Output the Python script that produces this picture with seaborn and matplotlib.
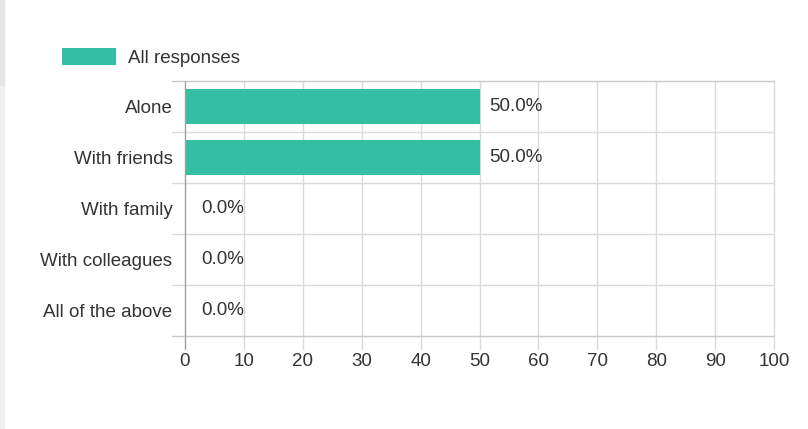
import seaborn as sns
import matplotlib.pyplot as plt
import pandas as pd
import numpy as np
from matplotlib.patches import Patch, Rectangle

categories = ["Alone", "With friends", "With family", "With colleagues", "All of the above"]
percent = [50.0, 50.0, 0.0, 0.0, 0.0]
series_name = "All responses"
xticks = [0, 10, 20, 30, 40, 50, 60, 70, 80, 90, 100]

df = pd.DataFrame({"response": categories, "percent": percent})

sns.set_style("white")
plt.rcParams['font.family'] = ['Liberation Sans', 'DejaVu Sans']

teal = "#34bea3"
grid_c = "#dadada"
text_c = "#333333"
fs = 13.5

fig = plt.figure(figsize=(8.08, 4.29), dpi=100)
fig.patch.set_facecolor("white")
# screenshot strip on the left
fig.patches.append(Rectangle((0, 1 - 86 / 429), 4 / 808, 86 / 429, transform=fig.transFigure,
                             color="#e6e6e6", zorder=0))
fig.patches.append(Rectangle((0, 0), 4 / 808, 1 - 86 / 429, transform=fig.transFigure,
                             color="#f0f0f4", zorder=0))

ax = fig.add_axes([185 / 808, 1 - 336 / 429, 589 / 808, 255 / 429])

sns.barplot(data=df, x="percent", y="response", orient="h", color=teal,
            saturation=1, width=0.7, linewidth=0, ax=ax, zorder=3)

ax.set_xlim(0, 100)
ax.set_ylim(len(categories) - 0.5, -0.5)
ax.set_xticks(xticks)
ax.set_xticklabels([str(t) for t in xticks])
ax.set_yticks(range(len(categories)))
ax.set_yticklabels(categories)
ax.set_xlabel("")
ax.set_ylabel("")

ax.grid(False)
# grid lines run a little past the plot area, like ticks
for t in xticks:
    ax.axvline(t, ymin=-13 / 255, ymax=1, color="#a0a0a0" if t == 0 else grid_c, lw=1,
               zorder=4 if t == 0 else 1, clip_on=False)
for yb in np.arange(-0.5, len(categories), 1):
    ax.axhline(yb, xmin=-13 / 589, xmax=1,
               color="#c8c8c8" if yb in (-0.5, len(categories) - 0.5) else grid_c,
               lw=1, zorder=1, clip_on=False)

for s in ax.spines.values():
    s.set_visible(False)

ax.tick_params(axis="x", length=9, labelsize=fs, labelcolor=text_c, pad=3)
ax.tick_params(axis="y", length=0, labelsize=fs, labelcolor=text_c, pad=9)

for i, v in enumerate(percent):
    pad = 7 if v > 0 else 12
    ax.annotate(f"{v:.1f}%", xy=(v, i), xytext=(pad, 0), textcoords="offset points",
                va="center", ha="left", fontsize=fs, color=text_c, zorder=5)

fig.legend(handles=[Patch(facecolor=teal, edgecolor="none", label=series_name)],
           loc="center left", bbox_to_anchor=(62 / 808, 1 - 57.5 / 429),
           frameon=False, fontsize=fs, handlelength=2.9, handleheight=1.0,
           handletextpad=0.6, borderpad=0, borderaxespad=0, labelcolor=text_c)

fig.savefig("out.png", dpi=100, facecolor=fig.get_facecolor())
